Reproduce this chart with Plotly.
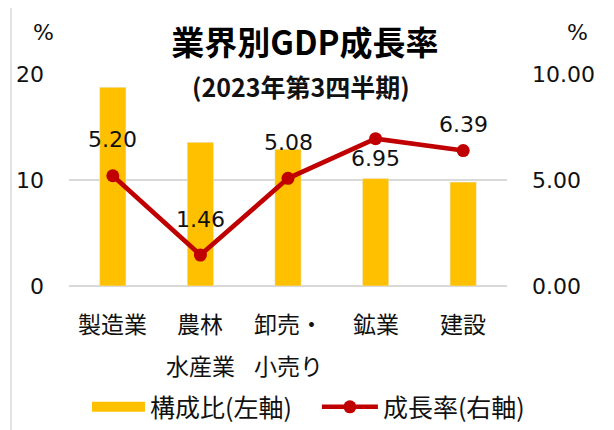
import plotly.graph_objects as go

# chart data
categories = ["製造業", "農林水産業", "卸売・小売り", "鉱業", "建設"]
label_line1 = ["製造業", "農林", "卸売・", "鉱業", "建設"]
label_line2 = ["", "水産業", "小売り", "", ""]
share = [18.75, 13.55, 12.9, 10.15, 9.8]        # 構成比 (left axis)
growth = [5.20, 1.46, 5.08, 6.95, 6.39]         # 成長率 (right axis)

# label offsets (px) for the growth values, Excel placed them by hand
label_shift = [36, 36, 36, -20, 26]

BAR_COLOR = "#ffc000"
LINE_COLOR = "#c00000"
GRID = "#d9d9d9"
TXT = "#111111"
NUM_FONT = "DejaVu Sans, Noto Sans CJK JP"
JP_FONT = "Noto Sans CJK JP, DejaVu Sans"

fig = go.Figure()

fig.add_trace(go.Bar(
    x=categories, y=share, name="構成比(左軸)",
    marker=dict(color=BAR_COLOR), yaxis="y", showlegend=False,
))
# legend-only entry so the swatch looks like Excel's wide bar
fig.add_trace(go.Scatter(
    x=[None], y=[None], mode="lines", name="構成比(左軸)",
    line=dict(color=BAR_COLOR, width=13), legend="legend",
))
fig.add_trace(go.Scatter(
    x=categories, y=growth, name="成長率(右軸)", yaxis="y2",
    mode="lines+markers",
    line=dict(color=LINE_COLOR, width=4.6),
    marker=dict(color=LINE_COLOR, size=13),
    legend="legend2",
))

# value labels on the line
for cat, val, dy in zip(categories, growth, label_shift):
    fig.add_annotation(
        x=cat, y=val, xref="x", yref="y2", yshift=dy,
        text=f"{val:.2f}", showarrow=False,
        font=dict(family=NUM_FONT, size=22, color=TXT),
    )

# two-row category labels
for cat, l1, l2 in zip(categories, label_line1, label_line2):
    fig.add_annotation(x=cat, y=-0.1745, xref="x", yref="paper", text=l1,
                       showarrow=False, yanchor="middle",
                       font=dict(family=JP_FONT, size=23, color=TXT))
    if l2:
        fig.add_annotation(x=cat, y=-0.3726, xref="x", yref="paper", text=l2,
                           showarrow=False, yanchor="middle",
                           font=dict(family=JP_FONT, size=23, color=TXT))

# unit marks above the axes
for xp in (-0.059, 1.162):
    fig.add_annotation(x=xp, y=1.198, xref="paper", yref="paper", text="%",
                       showarrow=False, xanchor="center", yanchor="middle",
                       font=dict(family=NUM_FONT, size=22, color=TXT))

# subtitle
fig.add_annotation(x=0.53, y=0.943, xref="paper", yref="paper",
                   text="<b>(2023年第3四半期)</b>", showarrow=False,
                   yanchor="middle",
                   font=dict(family=JP_FONT, size=25, color=TXT))

# chart area border
fig.add_shape(type="rect", xref="paper", yref="paper",
              x0=-0.1324, x1=1.2306, y0=-0.75, y1=1.335,
              line=dict(color=GRID, width=1.5), layer="below")

legend_style = dict(orientation="h", xanchor="left", y=-0.571,
                    yanchor="middle", bgcolor="rgba(0,0,0,0)",
                    font=dict(family=JP_FONT, size=25, color=TXT))

# the page body adds 8px on the top and left, margins make up for it
fig.update_layout(
    width=614, height=430,
    margin=dict(l=61, r=115, t=66, b=152, pad=0, autoexpand=False),
    paper_bgcolor="white", plot_bgcolor="white",
    title=dict(text="<b>業界別GDP成長率</b>", x=0.4837, xanchor="center",
               y=0.9186, yanchor="middle", yref="container",
               font=dict(family=JP_FONT, size=33, color="#000000")),
    bargap=0.7,
    showlegend=True,
    legend=dict(x=0.041, itemwidth=53, **legend_style),
    legend2=dict(x=0.566, itemwidth=56, **legend_style),
    xaxis=dict(showticklabels=False, showgrid=False, zeroline=False,
               showline=False, ticks=""),
    yaxis=dict(range=[0, 20], dtick=10, showgrid=True, gridcolor=GRID,
               gridwidth=1.5, zeroline=True, zerolinecolor=GRID,
               zerolinewidth=1.5, ticks="", ticklabelstandoff=24,
               tickfont=dict(family=NUM_FONT, size=22, color=TXT)),
    yaxis2=dict(range=[0, 10], dtick=5, tickformat=".2f", overlaying="y",
                side="right", showgrid=False, zeroline=False, ticks="",
                ticklabelstandoff=24,
                tickfont=dict(family=NUM_FONT, size=22, color=TXT)),
)

fig.write_html("out.html")
